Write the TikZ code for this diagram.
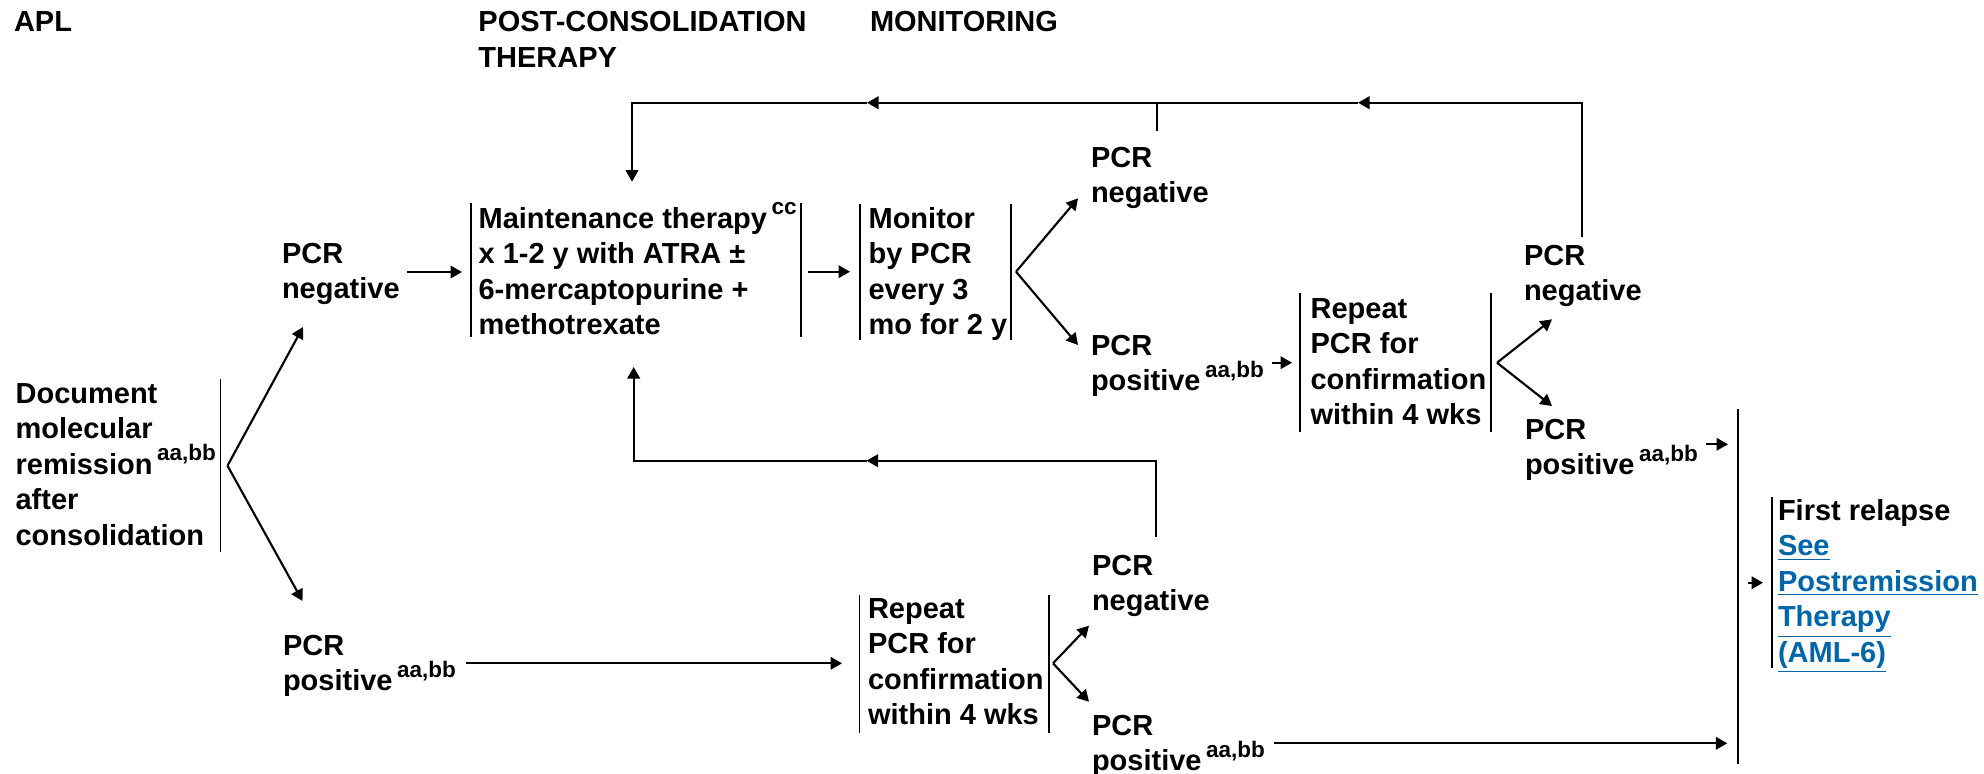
\documentclass[tikz,border=0pt]{standalone}
\usepackage{fontspec}
\setmainfont{Liberation Sans}
\usetikzlibrary{arrows.meta}
\definecolor{linkblue}{RGB}{0,102,170}
\newcommand\supr[1]{\hspace{1.8pt}\smash{\raisebox{5.4pt}{\fontsize{9pt}{10pt}\selectfont #1}}}
\newcommand\tb[1]{\begin{tabular}[t]{@{}l@{}}#1\end{tabular}}
\newcommand\lnk[1]{\textcolor{linkblue}{\underline{#1}}}
\begin{document}
\begin{tikzpicture}[x=0.4pt,y=-0.4pt,
  txt/.style={anchor=base west,inner sep=0pt,outer sep=0pt,font=\fontsize{11.6pt}{14.2pt}\selectfont\bfseries},
  conn/.style={line width=0.85pt,-{Triangle[length=4.6pt,width=5pt]}},
  plain/.style={line width=0.85pt},
  bar/.style={line width=0.75pt}]
\useasboundingbox (0,0) rectangle (1984,773);

% headers
\node[txt] (apl) at (14,31.7) {APL};
\node[txt] (post) at (478.4,31.7) {\tb{POST-CONSOLIDATION\\THERAPY}};
\node[txt] (mon) at (870,31.7) {MONITORING};

% text nodes
\node[txt] (doc) at (15.6,403) {\tb{Document\\molecular\\remission\supr{aa,bb}\\after\\consolidation}};
\node[txt] (negL) at (282,263.3) {\tb{PCR\\negative}};
\node[txt] (posL) at (283,655) {\tb{PCR\\positive\supr{aa,bb}}};
\node[txt] (maint) at (478.6,228) {\tb{Maintenance therapy\supr{cc}\\x 1-2 y with ATRA ±\\6-mercaptopurine +\\methotrexate}};
\node[txt] (monit) at (868.6,228) {\tb{Monitor\\by PCR\\every 3\\mo for 2 y}};
\node[txt] (negM) at (1091,167.3) {\tb{PCR\\negative}};
\node[txt] (posM) at (1091,355) {\tb{PCR\\positive\supr{aa,bb}}};
\node[txt] (rep1) at (1310.6,318.3) {\tb{Repeat\\PCR for\\confirmation\\within 4 wks}};
\node[txt] (negR) at (1524,265) {\tb{PCR\\negative}};
\node[txt] (posR) at (1525,439.3) {\tb{PCR\\positive\supr{aa,bb}}};
\node[txt] (first) at (1778,520) {\tb{First relapse\\\lnk{See}\\\lnk{Postremission}\\\lnk{Therapy}\\\lnk{(AML-6)}}};
\node[txt] (negB) at (1092,575) {\tb{PCR\\negative}};
\node[txt] (rep2) at (868,618.3) {\tb{Repeat\\PCR for\\confirmation\\within 4 wks}};
\node[txt] (posB) at (1092,735) {\tb{PCR\\positive\supr{aa,bb}}};

% bracket bars
\draw[bar] (220.5,379) -- (220.5,552);
\draw[bar] (471,203) -- (471,337);
\draw[bar] (800.7,203) -- (800.7,337);
\draw[bar] (859.6,204) -- (859.6,340);
\draw[bar] (1011,204) -- (1011,340);
\draw[bar] (1300,293.3) -- (1300,431.7);
\draw[bar] (1490.7,293.3) -- (1490.7,431.7);
\draw[bar] (859.5,595) -- (859.5,732.7);
\draw[bar] (1049,595) -- (1049,732.7);
\draw[bar] (1737.6,409) -- (1737.6,764);
\draw[bar] (1771.8,496.7) -- (1771.8,668.3);

% coordinates
\coordinate (v0) at (227.5,465.7);
\coordinate (v0a) at (303,327);
\coordinate (v0b) at (302.5,601);
\coordinate (a1s) at (407,272);
\coordinate (a1e) at (462,272);
\coordinate (a2s) at (466,663.3);
\coordinate (a2e) at (842,663.3);
\coordinate (a3s) at (808,271.7);
\coordinate (a3e) at (850,271.7);
\coordinate (v1) at (1016,271.7);
\coordinate (v1a) at (1078,198.3);
\coordinate (v1b) at (1078,345);
\coordinate (a4s) at (1272,362.7);
\coordinate (a4e) at (1292,362.7);
\coordinate (v2) at (1497,362.7);
\coordinate (v2a) at (1552,319.3);
\coordinate (v2b) at (1552,406);
\coordinate (a5s) at (1706,444.3);
\coordinate (a5e) at (1728,444.3);
\coordinate (a6s) at (1748,582.7);
\coordinate (a6e) at (1763,582.7);
\coordinate (v3) at (1053,663.3);
\coordinate (v3a) at (1089,625.7);
\coordinate (v3b) at (1089,701.7);
\coordinate (a7s) at (1274,743.3);
\coordinate (a7e) at (1727.3,743.3);
% top loop
\coordinate (t0) at (1582.4,236.7);
\coordinate (t1) at (1582.4,102.7);
\coordinate (t2) at (1358,102.7);
\coordinate (t3) at (867,102.7);
\coordinate (t4) at (632,102.7);
\coordinate (t5) at (632,181.7);
\coordinate (m0) at (1157,130.7);
\coordinate (m1) at (1157,102.7);
% bottom loop
\coordinate (b0) at (1156.4,537.3);
\coordinate (b1) at (1156.4,460.7);
\coordinate (b2) at (866.5,460.7);
\coordinate (b3) at (633.7,460.7);
\coordinate (b4) at (633.7,367);

% connectors
\draw[conn] (v0) -- (v0a);
\draw[conn] (v0) -- (v0b);
\draw[conn] (a1s) -- (a1e);
\draw[conn] (a2s) -- (a2e);
\draw[conn] (a3s) -- (a3e);
\draw[conn] (v1) -- (v1a);
\draw[conn] (v1) -- (v1b);
\draw[conn] (a4s) -- (a4e);
\draw[conn] (v2) -- (v2a);
\draw[conn] (v2) -- (v2b);
\draw[conn] (a5s) -- (a5e);
\draw[conn] (a6s) -- (a6e);
\draw[conn] (v3) -- (v3a);
\draw[conn] (v3) -- (v3b);
\draw[conn] (a7s) -- (a7e);
\draw[conn] (t0) -- (t1) -- (t2);
\draw[conn] (t2) -- (t3);
\draw[conn] (t3) -- (t4) -- (t5);
\draw[plain] (m0) -- (m1);
\draw[conn] (b0) -- (b1) -- (b2);
\draw[conn] (b2) -- (b3) -- (b4);
\end{tikzpicture}
\end{document}
